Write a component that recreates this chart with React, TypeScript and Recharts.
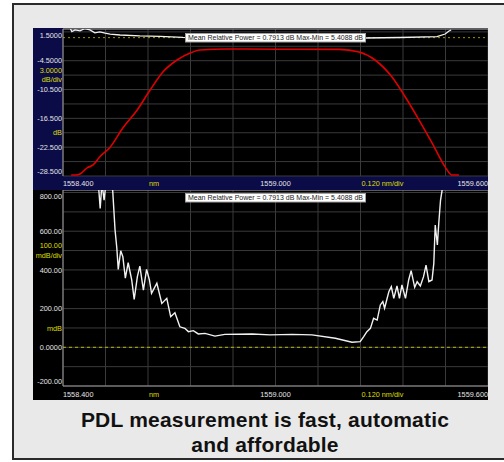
import { ComposedChart, Line, XAxis, YAxis, CartesianGrid, ReferenceLine } from "recharts";

// wavelength axis, 0.120 nm per division
const wlTicks = [1558.4, 1558.52, 1558.64, 1558.76, 1558.88, 1559.0, 1559.12, 1559.24, 1559.36, 1559.48, 1559.6];
const wlLabels = ["1558.400", "", "", "", "", "1559.000", "", "", "", "", "1559.600"];
const wlUnits = ["", "", "nm", "", "", "", "", "0.120 nm/div", "", "", ""];

// upper trace: insertion loss, 3 dB per division
const dbTicks = [-28.5, -25.5, -22.5, -19.5, -16.5, -13.5, -10.5, -7.5, -4.5, -1.5, 1.5];
const dbLabels = ["-28.500", "", "-22.500", "", "-16.500", "", "-10.500", "", "-4.5000", "", "1.5000"];
const dbUnits = [[], [], [], ["dB"], [], [], [], ["3.0000", "dB/div"], [], [], []];
const dbDomain = [-28.5, 2.1];
const dbRefLevel = 0.3;

// lower trace: PDL, 100 mdB per division
const mdbTicks = [-200, -100, 0, 100, 200, 300, 400, 500, 600, 700, 800];
const mdbLabels = ["-200.00", "", "0.0000", "", "200.00", "", "400.00", "", "600.00", "", "800.00"];
const mdbUnits = [[], [], [], ["mdB"], [], [], [], ["100.00", "mdB/div"], [], [], []];
const mdbDomain = [-200, 813];
const mdbRefLevel = 0;

const lossWl = [1558.423, 1558.437, 1558.448, 1558.468, 1558.485, 1558.504, 1558.533, 1558.569, 1558.609, 1558.646, 1558.682, 1558.722, 1558.759, 1558.787, 1558.863, 1559.0, 1559.18, 1559.236, 1559.281, 1559.329, 1559.366, 1559.405, 1559.442, 1559.479, 1559.498, 1559.518];
const lossDb = [-28.3, -28.3, -28.1, -26.8, -26.2, -24.5, -22.5, -18.5, -14.8, -10.6, -6.85, -4.35, -2.9, -2.27, -2.06, -2.1, -2.15, -2.7, -4.35, -7.9, -12.0, -16.8, -21.6, -26.6, -28.3, -28.3];

const pdlDbWl = [1558.418, 1558.425, 1558.434, 1558.448, 1558.462, 1558.476, 1558.49, 1558.504, 1558.519, 1558.533, 1558.561, 1558.617, 1558.674, 1558.739, 1559.0, 1559.253, 1559.352, 1559.456, 1559.479, 1559.49, 1559.496];
const pdlDb = [2.6, 1.55, 1.9, 1.7, 2.2, 1.9, 1.3, 1.5, 1.25, 1.05, 0.85, 0.65, 0.55, 0.35, 0.28, 0.23, 0.33, 0.5, 1.06, 1.68, 1.89];

const pdlWl = [1558.49, 1558.5, 1558.505, 1558.51, 1558.516, 1558.522, 1558.532, 1558.54, 1558.547, 1558.552, 1558.556, 1558.563, 1558.569, 1558.576, 1558.584, 1558.594, 1558.601, 1558.61, 1558.617, 1558.627, 1558.636, 1558.644, 1558.65, 1558.665, 1558.679, 1558.693, 1558.704, 1558.716, 1558.73, 1558.744, 1558.754, 1558.768, 1558.782, 1558.801, 1558.829, 1558.857, 1558.934, 1558.985, 1559.047, 1559.103, 1559.169, 1559.216, 1559.239, 1559.249, 1559.258, 1559.268, 1559.277, 1559.287, 1559.296, 1559.303, 1559.308, 1559.32, 1559.327, 1559.334, 1559.343, 1559.35, 1559.357, 1559.367, 1559.376, 1559.383, 1559.393, 1559.4, 1559.409, 1559.418, 1559.425, 1559.433, 1559.442, 1559.447, 1559.451, 1559.457, 1559.461, 1559.466, 1559.472, 1559.478];
const pdlMdb = [1100, 840, 718, 850, 760, 860, 830, 820, 606, 512, 403, 499, 468, 357, 437, 348, 248, 365, 420, 296, 403, 348, 279, 331, 227, 253, 158, 179, 106, 98, 81, 86, 69, 72, 58, 67, 69, 64, 67, 64, 47, 26, 29, 55, 81, 98, 150, 141, 219, 236, 202, 287, 313, 253, 317, 253, 322, 253, 348, 396, 310, 339, 317, 365, 425, 339, 348, 434, 632, 529, 641, 761, 830, 1100];

const zip = (xs: number[], ys: number[]) => xs.map((wl, i) => ({ wl, v: ys[i] }));

const NAVY = "#0b0b48";
const GRID = "#3a3a3a";
const EDGE = "#9a9a9a";
const TXT = "#e4e4e4";
const YEL = "#dede00";
const FS = 7.3;

const xTick = (dy: number) => (p: any) => {
  const i = wlTicks.indexOf(p.payload.value);
  const anchor = i === 0 ? "start" : i === wlTicks.length - 1 ? "end" : "middle";
  return (
    <g>
      {wlLabels[i] && <text x={p.x} y={p.y + dy} textAnchor={anchor} fill={TXT} fontSize={FS}>{wlLabels[i]}</text>}
      {wlUnits[i] && <text x={p.x + 1} y={p.y + dy} textAnchor="start" fill={YEL} fontSize={FS}>{wlUnits[i]}</text>}
    </g>
  );
};

const yTick = (ticks: number[], labels: string[], units: string[][]) => (p: any) => {
  const i = ticks.indexOf(p.payload.value);
  const shift = i === 0 ? -5 : i === ticks.length - 1 ? 4 : 0;
  const u = units[i];
  return (
    <g>
      {labels[i] && <text x={p.x} y={p.y + shift + 2.6} textAnchor="end" fill={TXT} fontSize={FS}>{labels[i]}</text>}
      {u.map((s, k) => (
        <text key={s} x={p.x} y={p.y + 2.6 + (u.length === 1 ? 0 : k === 0 ? -5 : 4.5)} textAnchor="end" fill={YEL} fontSize={FS}>{s}</text>
      ))}
    </g>
  );
};

const InfoBox = ({ top }: { top: number }) => (
  <g>
    <rect x={185.5} y={top + 0.5} width={180} height={8.5} fill="#fff" stroke="#a0a0a0" />
    <text x={188} y={top + 7.2} fontSize={7} fill="#222" textLength={175} lengthAdjust="spacingAndGlyphs">
      Mean Relative Power = 0.7913 dB Max-Min = 5.4088 dB
    </text>
  </g>
);

export default function App() {
  return (
    <div style={{ position: "absolute", left: 0, top: 0, width: 504, height: 462, overflow: "hidden", background: "#fff", fontFamily: "'Liberation Sans', Arial, sans-serif" }}>
      <div style={{ position: "absolute", left: 12, top: 3, width: 510, height: 457, boxSizing: "border-box", border: "2px solid #2b2b2b", background: "#e9e9e9" }} />

      <div style={{ position: "absolute", left: 33, top: 28, width: 455, height: 162, background: NAVY }}>
        <ComposedChart width={455} height={162} margin={{ top: 1, right: 0, bottom: 0, left: 0 }}>
          <CartesianGrid fill="#000" stroke={GRID} />
          <XAxis type="number" dataKey="wl" domain={[1558.4, 1559.6]} ticks={wlTicks} interval={0} height={14} tickSize={0} tickMargin={0} axisLine={false} tick={xTick(9.5)} allowDataOverflow />
          <YAxis type="number" domain={dbDomain} ticks={dbTicks} interval={0} width={30} tickSize={0} tickMargin={1} axisLine={{ stroke: EDGE }} tick={yTick(dbTicks, dbLabels, dbUnits)} allowDataOverflow />
          <ReferenceLine y={dbDomain[1]} stroke={EDGE} />
          <ReferenceLine y={dbRefLevel} stroke="#9a9a00" strokeDasharray="2 3" />
          <Line data={zip(pdlDbWl, pdlDb)} dataKey="v" type="linear" stroke="#f2f2f2" strokeWidth={1.3} dot={false} isAnimationActive={false} />
          <Line data={zip(lossWl, lossDb)} dataKey="v" type="monotone" stroke="#e00000" strokeWidth={1.6} dot={false} isAnimationActive={false} />
        </ComposedChart>
      </div>

      <div style={{ position: "absolute", left: 33, top: 190, width: 455, height: 210, background: "#000" }}>
        <ComposedChart width={455} height={210} margin={{ top: 0, right: 0, bottom: 0, left: 0 }}>
          <CartesianGrid fill="#000" stroke={GRID} />
          <XAxis type="number" dataKey="wl" domain={[1558.4, 1559.6]} ticks={wlTicks} interval={0} height={14} tickSize={0} tickMargin={0} axisLine={{ stroke: EDGE }} tick={xTick(10.5)} allowDataOverflow />
          <YAxis type="number" domain={mdbDomain} ticks={mdbTicks} interval={0} width={30} tickSize={0} tickMargin={1} axisLine={{ stroke: EDGE }} tick={yTick(mdbTicks, mdbLabels, mdbUnits)} allowDataOverflow />
          <ReferenceLine y={mdbDomain[1]} stroke={EDGE} />
          <ReferenceLine y={mdbRefLevel} stroke="#b8b800" strokeDasharray="3 3" />
          <Line data={zip(pdlWl, pdlMdb)} dataKey="v" type="linear" stroke="#f2f2f2" strokeWidth={1.4} dot={false} isAnimationActive={false} />
        </ComposedChart>
      </div>

      <svg width={504} height={462} style={{ position: "absolute", left: 0, top: 0, pointerEvents: "none" }}>
        <InfoBox top={33} />
        <InfoBox top={193} />
      </svg>

      <div style={{ position: "absolute", left: 12, top: 407, width: 506, textAlign: "center", fontFamily: "Arial, 'Liberation Sans', sans-serif", fontWeight: "bold", fontSize: 21, letterSpacing: 0.2, lineHeight: "25px", color: "#111" }}>
        PDL measurement is fast, automatic
        <br />
        and affordable
      </div>
    </div>
  );
}
